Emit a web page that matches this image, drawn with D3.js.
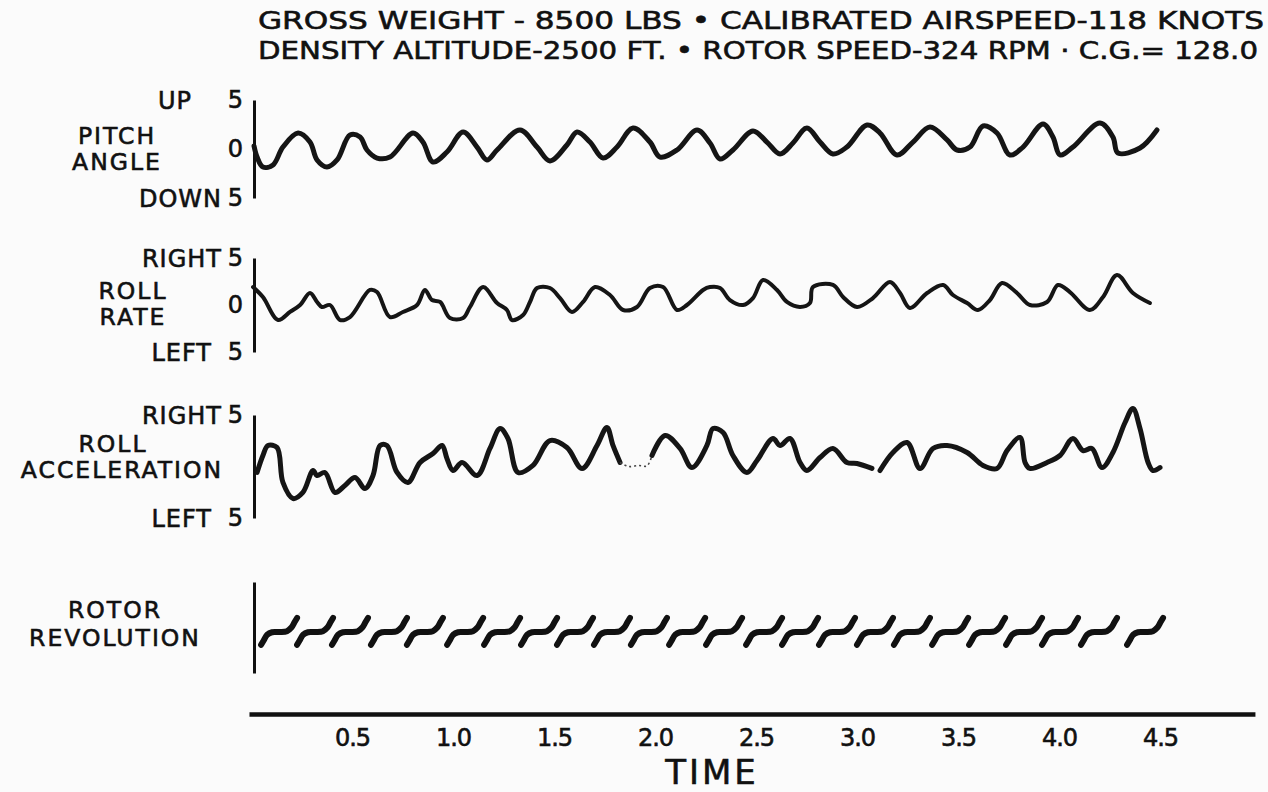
<!DOCTYPE html>
<html>
<head>
<meta charset="utf-8">
<script src="https://cdn.jsdelivr.net/npm/d3@7/dist/d3.min.js"></script>
<style>
  html, body { margin: 0; padding: 0; background: #fbfbfb; }
  svg { display: block; }
  text { font-family: "DejaVu Sans", sans-serif; fill: #111; stroke: #111; stroke-width: 0.6px; }
</style>
</head>
<body>
<script>
// time in seconds, values in chart units (-5..5)
const titleLines = [
  'GROSS WEIGHT - 8500 LBS  •  CALIBRATED AIRSPEED-118 KNOTS',
  'DENSITY ALTITUDE-2500 FT. • ROTOR SPEED-324 RPM  ·  C.G.= 128.0'
];
const timeTicks = [0.5, 1.0, 1.5, 2.0, 2.5, 3.0, 3.5, 4.0, 4.5];
const timeTickLabels = ['0.5', '1.0', '1.5', '2.0', '2.5', '3.0', '3.5', '4.0', '4.5'];

const pitchAngle = [
  [0.015,0.30],[0.030,-0.82],[0.059,-1.84],[0.109,-1.63],[0.158,0.20],[0.233,1.63],[0.292,0.71],
  [0.327,-1.12],[0.376,-1.84],[0.426,-1.12],[0.490,1.43],[0.540,1.22],[0.574,-0.10],[0.624,-0.92],
  [0.688,-0.82],[0.802,1.63],[0.851,0.71],[0.901,-1.33],[0.970,-0.31],[1.050,1.73],[1.119,0.20],
  [1.168,-1.12],[1.218,-0.10],[1.332,1.94],[1.416,0.20],[1.480,-1.22],[1.564,0.41],[1.614,1.73],
  [1.678,0.71],[1.743,-0.92],[1.812,0.20],[1.891,2.14],[1.975,0.71],[2.025,-0.82],[2.109,-0.10],
  [2.208,1.94],[2.272,0.61],[2.322,-1.02],[2.386,-0.10],[2.485,1.84],[2.554,0.71],[2.619,-0.51],
  [2.683,0.61],[2.752,2.14],[2.817,0.71],[2.881,-0.51],[2.950,0.20],[3.050,2.45],[3.114,1.63],
  [3.198,-0.61],[3.277,0.71],[3.361,2.24],[3.446,0.92],[3.495,-0.10],[3.559,0.20],[3.624,2.35],
  [3.693,1.63],[3.757,-0.61],[3.822,0.20],[3.921,2.55],[3.970,1.22],[4.005,-0.61],[4.069,0.20],
  [4.203,2.65],[4.267,1.22],[4.292,-0.41],[4.401,0.10],[4.485,1.94]
];

const rollRate = [
  [0.010,1.91],[0.059,0.85],[0.134,-1.60],[0.193,-0.74],[0.243,0.00],[0.292,1.28],[0.327,0.32],
  [0.351,-0.21],[0.391,0.00],[0.441,-1.60],[0.490,-1.28],[0.589,1.60],[0.624,1.38],[0.688,-1.28],
  [0.752,-0.74],[0.822,0.00],[0.861,1.60],[0.896,0.53],[0.936,0.32],[0.985,-1.38],[1.050,-1.38],
  [1.084,-0.21],[1.149,1.91],[1.218,0.21],[1.267,-0.53],[1.292,-1.60],[1.347,-1.06],[1.381,0.32],
  [1.416,1.81],[1.480,1.81],[1.530,0.74],[1.589,-0.74],[1.644,0.32],[1.703,1.91],[1.777,1.06],
  [1.842,-0.53],[1.911,-0.21],[1.975,1.81],[2.040,1.91],[2.109,-0.53],[2.158,0.00],[2.238,1.60],
  [2.272,1.91],[2.322,1.81],[2.371,0.53],[2.436,0.00],[2.485,0.74],[2.535,2.66],[2.604,1.60],
  [2.653,0.32],[2.718,-0.21],[2.767,0.21],[2.782,1.91],[2.881,2.13],[2.931,0.85],[3.000,-0.21],
  [3.079,0.74],[3.163,2.45],[3.213,1.28],[3.262,-0.32],[3.347,1.28],[3.426,2.13],[3.475,1.06],
  [3.545,0.21],[3.599,-0.53],[3.658,0.53],[3.718,2.34],[3.792,1.28],[3.856,0.00],[3.941,0.32],
  [3.995,2.13],[4.054,1.38],[4.153,-0.53],[4.218,0.85],[4.287,3.19],[4.366,1.28],[4.450,0.21]
];

// null marks the breaks in the recorded trace
const rollAcceleration = [
  [0.030,-0.58],[0.059,1.07],[0.084,2.04],[0.129,1.84],[0.158,-1.55],[0.208,-3.11],[0.257,-2.52],
  [0.307,-0.39],[0.327,-0.87],[0.366,-0.58],[0.416,-2.52],[0.465,-1.84],[0.515,-1.07],[0.564,-2.14],
  [0.604,-0.87],[0.639,2.04],[0.673,2.04],[0.723,-0.58],[0.777,-1.55],[0.837,0.39],[0.901,1.26],
  [0.946,2.04],[0.970,0.78],[1.000,-0.39],[1.045,0.39],[1.119,-0.87],[1.183,1.75],[1.233,3.69],
  [1.272,2.72],[1.322,-0.58],[1.396,0.10],[1.480,2.52],[1.564,1.84],[1.639,-0.19],[1.713,2.04],
  [1.762,3.79],[1.792,2.04],[1.827,0.39],[1.900,null],[1.985,1.07],[2.050,3.01],[2.124,1.75],
  [2.183,-0.10],[2.257,2.04],[2.287,3.69],[2.337,3.30],[2.386,1.07],[2.455,-0.58],[2.505,0.58],
  [2.584,2.72],[2.619,2.04],[2.668,2.72],[2.718,0.39],[2.752,-0.39],[2.817,0.87],[2.881,1.75],
  [2.950,0.39],[3.000,0.29],[3.074,-0.19],[3.094,null],[3.114,-0.39],[3.178,1.36],[3.248,2.33],
  [3.312,-0.19],[3.376,1.75],[3.446,2.04],[3.545,1.36],[3.624,0.10],[3.693,-0.19],[3.743,1.55],
  [3.807,2.82],[3.832,0.39],[3.856,-0.19],[3.941,0.39],[4.005,1.07],[4.069,2.72],[4.119,1.55],
  [4.163,1.75],[4.213,-0.10],[4.267,1.36],[4.327,4.27],[4.366,5.63],[4.401,3.69],[4.441,0.39],
  [4.465,-0.39],[4.500,-0.10]
];
// faint dotted part of the acceleration trace inside the first break
const rollAccelerationFaint = [
  [1.827,0.39],[1.870,0.00],[1.920,0.10],[1.960,0.05],[1.985,1.07]
];

// end time of each rotor revolution mark, and the shape of one mark (time before end, value)
const rotorRevEnds = [
  0.228,0.406,0.579,0.772,0.950,1.149,1.332,1.515,1.693,1.876,2.059,2.248,
  2.431,2.629,2.807,2.990,3.178,3.361,3.550,3.733,3.916,4.094,4.287,4.515
];
const rotorMarkShape = [
  [-0.178,-1.90],[-0.166,-1.45],[-0.148,-0.80],[-0.124,-0.52],[-0.085,-0.50],
  [-0.050,-0.40],[-0.028,0.00],[-0.012,0.60],[0,1.05]
];

const width = 1268, height = 792;
const svg = d3.select('body').append('svg')
  .attr('width', width)
  .attr('height', height);

const x = d3.scaleLinear().domain([0, 4.5]).range([251, 1160]);
const axisX = 254;

// header
svg.selectAll('text.title')
  .data(titleLines)
  .enter().append('text')
  .attr('class', 'title')
  .attr('x', 258)
  .attr('y', (d, i) => 29 + i * 30)
  .attr('textLength', (d, i) => i === 0 ? 1006 : 1000)
  .attr('lengthAdjust', 'spacingAndGlyphs')
  .style('font-size', '25px')
  .text(d => d);

const panels = [
  { data: pitchAngle, range: [198, 100], sw: 5, ticks: [5, 0, -5],
    words: [['UP', 5, 192], ['DOWN', -5, 222]],
    name: ['PITCH', 'ANGLE'], nameX: [117, 117], nameY: [144, 170] },
  { data: rollRate, range: [352, 258], sw: 4, ticks: [5, 0, -5],
    words: [['RIGHT', 5, 222], ['LEFT', -5, 212]],
    name: ['ROLL', 'RATE'], nameX: [133, 133], nameY: [299, 325] },
  { data: rollAcceleration, range: [518, 415], sw: 5, ticks: [5, -5],
    words: [['RIGHT', 5, 222], ['LEFT', -5, 212]],
    name: ['ROLL', 'ACCELERATION'], nameX: [113, 122], nameY: [452, 478] },
  { data: null, range: [673, 582], sw: 6, ticks: [],
    words: [],
    name: ['ROTOR', 'REVOLUTION'], nameX: [115, 115], nameY: [618, 646] }
];

panels.forEach(p => {
  const y = d3.scaleLinear().domain([-5, 5]).range(p.range);
  const g = svg.append('g');

  const axis = d3.axisLeft(y)
    .tickValues(p.ticks)
    .tickSize(0)
    .tickPadding(11)
    .tickFormat(d => Math.abs(d));
  const ga = g.append('g')
    .attr('transform', `translate(${axisX},0)`)
    .call(axis);
  ga.select('.domain').attr('stroke', '#111').attr('stroke-width', 3);
  ga.selectAll('.tick text')
    .style('font-family', '"DejaVu Sans", sans-serif')
    .style('font-size', '24px')
    .attr('fill', '#111');

  p.words.forEach(w => {
    g.append('text')
      .attr('x', w[2])
      .attr('y', y(w[1]))
      .attr('dy', '0.36em')
      .attr('text-anchor', 'end')
      .style('font-size', '24px')
      .style('letter-spacing', '1px')
      .text(w[0]);
  });

  // two-line panel name as one text block
  const nt = g.append('text')
    .attr('text-anchor', 'middle')
    .style('font-size', '23.5px')
    .style('letter-spacing', '2px');
  p.name.forEach((n, i) => {
    nt.append('tspan')
      .attr('x', p.nameX[i])
      .attr('y', p.nameY[i])
      .text(n);
  });

  const line = d3.line()
    .defined(d => d[1] !== null)
    .x(d => x(d[0]))
    .y(d => y(d[1]))
    .curve(d3.curveCatmullRom.alpha(0.5));

  if (p.data) {
    g.append('path')
      .datum(p.data)
      .attr('d', line)
      .attr('fill', 'none')
      .attr('stroke', '#151515')
      .attr('stroke-width', p.sw)
      .attr('stroke-linejoin', 'round')
      .attr('stroke-linecap', 'round');
    if (p.data === rollAcceleration) {
      g.append('path')
        .datum(rollAccelerationFaint)
        .attr('d', line)
        .attr('fill', 'none')
        .attr('stroke', '#444')
        .attr('stroke-width', 1.6)
        .attr('stroke-dasharray', '2 3');
    }
  } else {
    g.selectAll('path.rev')
      .data(rotorRevEnds)
      .enter().append('path')
      .attr('class', 'rev')
      .attr('d', t => line(rotorMarkShape.map(s => [t + s[0], s[1]])))
      .attr('fill', 'none')
      .attr('stroke', '#111')
      .attr('stroke-width', p.sw)
      .attr('stroke-linecap', 'round');
  }
});

// time axis
const xAxisScale = x.copy().domain([-0.01, 4.97]).range([x(-0.01), x(4.97)]);
const gx = svg.append('g')
  .attr('transform', 'translate(0,714)')
  .call(d3.axisBottom(xAxisScale)
    .tickValues(timeTicks)
    .tickSize(0)
    .tickPadding(15)
    .tickFormat((d, i) => timeTickLabels[i]));
gx.select('.domain').attr('stroke', '#111').attr('stroke-width', 4.5);
gx.selectAll('.tick text')
  .style('font-family', '"DejaVu Sans", sans-serif')
  .style('font-size', '24px')
  .style('letter-spacing', '-1px')
  .attr('fill', '#111');

svg.append('text')
  .attr('x', 712)
  .attr('y', 784)
  .attr('text-anchor', 'middle')
  .style('font-size', '34px')
  .style('letter-spacing', '3px')
  .text('TIME');
</script>
</body>
</html>
